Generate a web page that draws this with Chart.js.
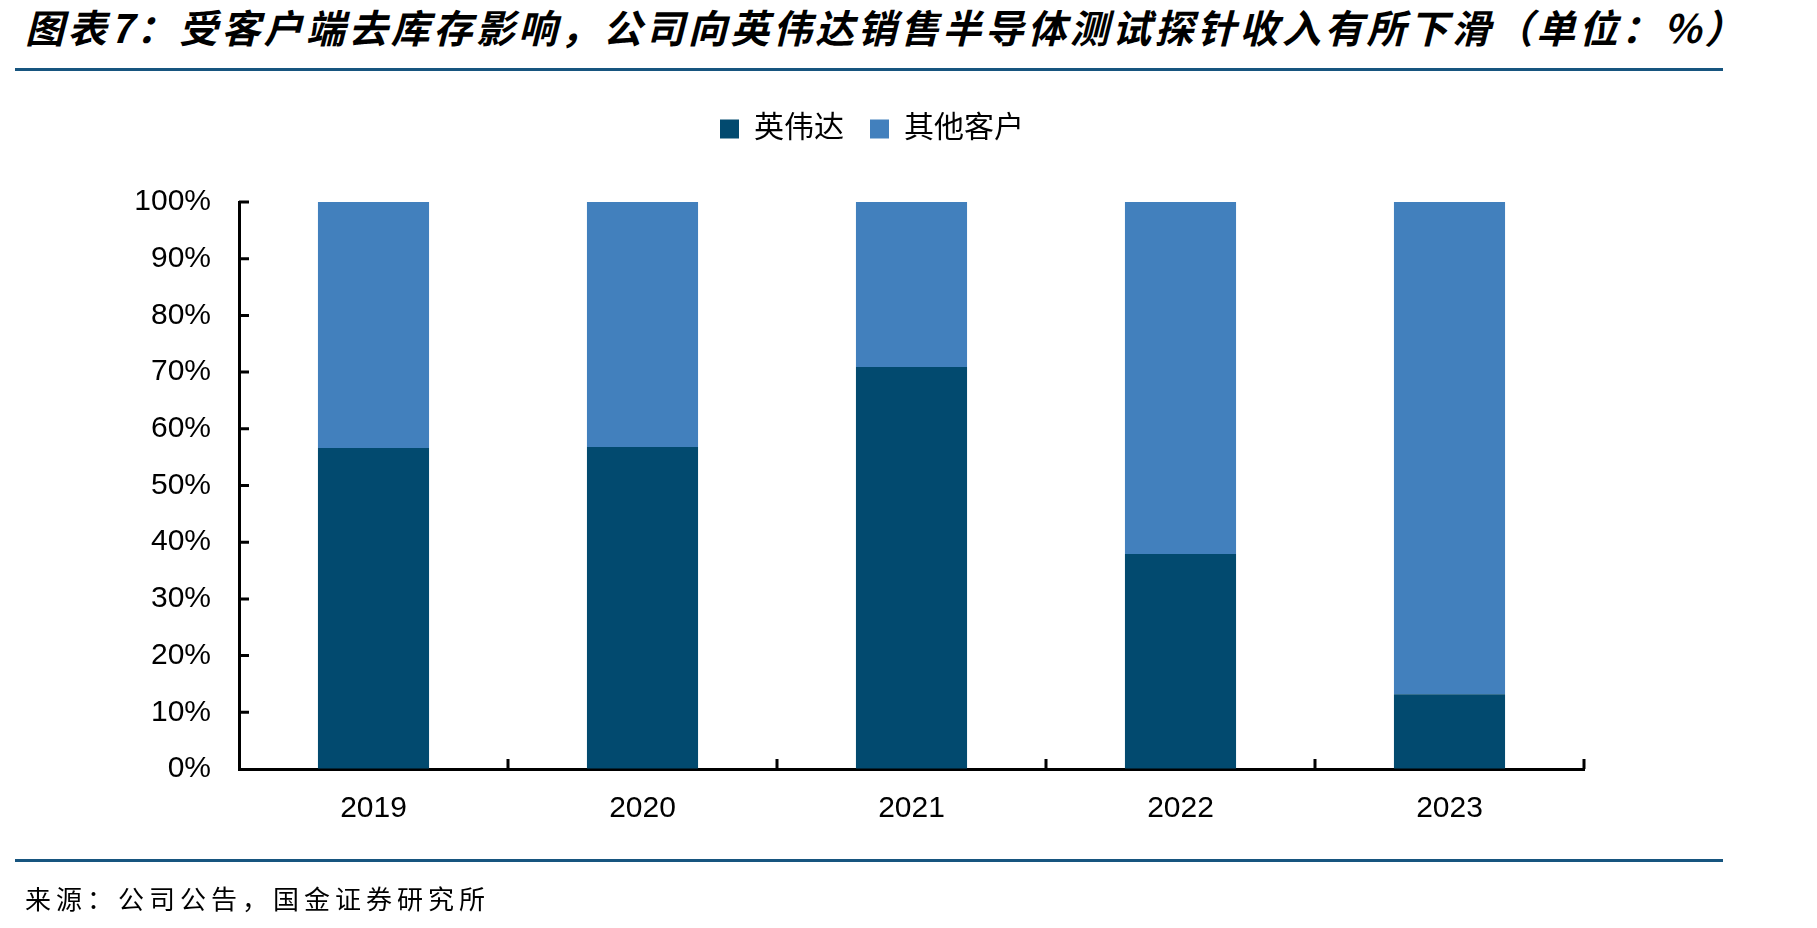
<!DOCTYPE html>
<html>
<head>
<meta charset="utf-8">
<script src="https://cdn.jsdelivr.net/npm/chart.js@4.4.1/dist/chart.umd.min.js"></script>
<style>
  html, body { margin: 0; padding: 0; background: #fff; }
  body { width: 1817px; height: 928px; position: relative; overflow: hidden; }
  #title {
    position: absolute; left: 25px; top: 1px; height: 50px; line-height: 50px;
    font-family: "Noto Sans CJK SC", sans-serif; font-weight: bold; font-style: italic;
    font-size: 39px; color: #000; white-space: nowrap;
  }
  .rule { position: absolute; left: 15px; width: 1708px; height: 3px; background: #17557f; }
  #footer {
    position: absolute; left: 25px; top: 880px; line-height: 36px;
    font-family: "Noto Sans CJK SC", sans-serif; font-size: 26px; color: #000;
    letter-spacing: 5px; white-space: nowrap;
  }
  #wrap { position: absolute; left: 0; top: 0; width: 1817px; height: 928px; }
</style>
</head>
<body>
<div id="title">图表7：受客户端去库存影响，公司向英伟达销售半导体测试探针收入有所下滑（单位：%）</div>
<div class="rule" style="top:68px"></div>
<div id="wrap"><canvas id="c"></canvas></div>
<div class="rule" style="top:859px"></div>
<div id="footer">来源：公司公告，国金证券研究所</div>
<script>
// 数据
const years = ['2019', '2020', '2021', '2022', '2023'];
const nvidia = [56.6, 56.8, 70.9, 37.9, 13.2];     // 英伟达
const others = [43.4, 43.2, 29.1, 62.1, 86.8];     // 其他客户
const yTicks = [0, 10, 20, 30, 40, 50, 60, 70, 80, 90, 100];

// 标题铺满宽度
const t = document.getElementById('title');
const n = t.textContent.length;
const w = t.getBoundingClientRect().width;
t.style.letterSpacing = ((1722 - w) / n) + 'px';

const numFont = '"Liberation Sans", Arial, "Noto Sans CJK SC", sans-serif';

// 轴线内侧的短刻度
const innerTicks = {
  id: 'innerTicks',
  afterDraw(chart) {
    const { ctx, chartArea: a, scales: { x, y } } = chart;
    ctx.save();
    ctx.strokeStyle = '#000';
    ctx.lineWidth = 3;
    ctx.beginPath();
    yTicks.forEach(v => {
      if (v === 0) return;
      const py = y.getPixelForValue(v);
      ctx.moveTo(a.left, py);
      ctx.lineTo(a.left + 10, py);
    });
    for (let i = 0; i < years.length; i++) {
      const px = x.getPixelForValue(i + 0.5);
      ctx.moveTo(px, a.bottom);
      ctx.lineTo(px, a.bottom - 10);
    }
    ctx.stroke();
    ctx.restore();
  }
};

new Chart(document.getElementById('c'), {
  type: 'bar',
  data: {
    labels: years,
    datasets: [
      { label: '英伟达', data: nvidia, backgroundColor: '#024a6f', categoryPercentage: 1, barPercentage: 0.413 },
      { label: '其他客户', data: others, backgroundColor: '#4280bd', categoryPercentage: 1, barPercentage: 0.413 }
    ]
  },
  options: {
    responsive: true,
    maintainAspectRatio: false,
    animation: false,
    layout: { padding: { left: 100, right: 173, top: 88, bottom: 99 } },
    plugins: {
      legend: {
        position: 'top',
        labels: {
          boxWidth: 19, boxHeight: 19, padding: 26, color: '#000',
          font: { family: numFont, size: 30 }
        }
      },
      // 图例与绘图区之间的空白
      subtitle: {
        display: true, text: '', weight: 500,
        font: { size: 1, lineHeight: 1 },
        padding: { top: 47, bottom: 0 }
      },
      // 右侧留白，使图例居中位置与原图一致
      title: {
        display: true, text: '', position: 'right',
        font: { size: 1, lineHeight: 1 },
        padding: { top: 0, bottom: 59 }
      },
      tooltip: { enabled: false }
    },
    scales: {
      x: {
        stacked: true,
        grid: { display: true, drawOnChartArea: false, drawTicks: false },
        border: { display: true, color: '#000', width: 3 },
        ticks: { color: '#000', padding: 22, font: { family: numFont, size: 30 } },
        afterFit(s) { s.height = 60; }
      },
      y: {
        stacked: true,
        min: 0, max: 100,
        grid: { display: true, drawOnChartArea: false, drawTicks: false },
        border: { display: true, color: '#000', width: 3 },
        ticks: {
          stepSize: 10, color: '#000', padding: 28,
          font: { family: numFont, size: 30 },
          callback: v => v + '%'
        },
        afterFit(s) { s.width = 139; }
      }
    }
  },
  plugins: [innerTicks]
});
</script>
</body>
</html>
